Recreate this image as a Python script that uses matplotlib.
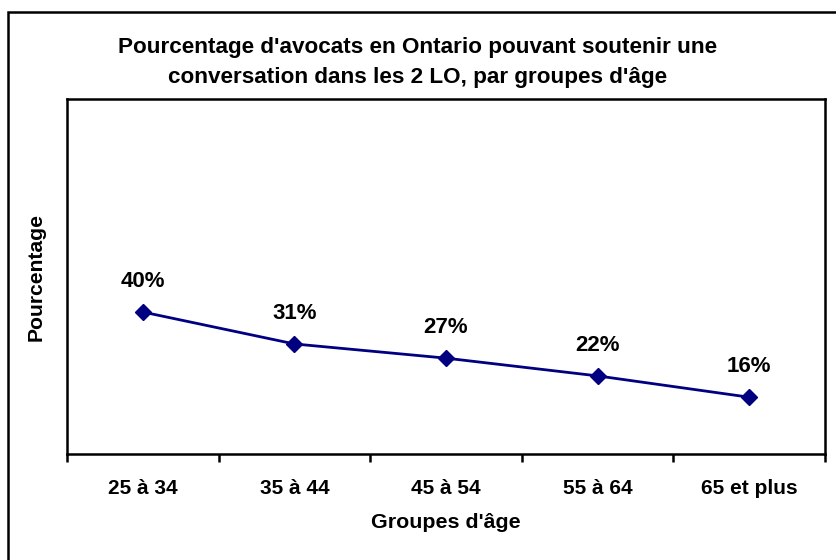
import numpy as np
import matplotlib.pyplot as plt
from matplotlib.patches import Rectangle

plt.rcParams['font.family'] = ['Liberation Sans', 'DejaVu Sans']
plt.rcParams['font.weight'] = 'bold'

groupes = ["25 à 34", "35 à 44", "45 à 54", "55 à 64", "65 et plus"]
pourcentages = [40, 31, 27, 22, 16]

fig = plt.figure(figsize=(8.36, 5.6), dpi=100)
W, H = 836, 560

# outer chart border (only left and top visible in the reference)
fig.patches.append(Rectangle((8 / W, -0.1), 1.2, (560 - 12) / H + 0.1, transform=fig.transFigure,
                             fill=False, edgecolor="black", linewidth=1.8))

ax = fig.add_axes([67 / W, (H - 454) / H, (825 - 67) / W, (454 - 99) / H])
x = np.arange(len(groupes))
ax.plot(x, pourcentages, color="#000080", linewidth=2, marker="D", markersize=8)
for xi, v in zip(x, pourcentages):
    ax.annotate("%d%%" % v, (xi, v), xytext=(0, 22), textcoords="offset points",
                ha="center", va="center", fontsize=16, fontweight="bold")

ax.set_xlim(-0.5, len(groupes) - 0.5)
ax.set_ylim(0, 100)
ax.set_yticks([])
ax.set_xticks(np.arange(len(groupes) + 1) - 0.5)
ax.set_xticklabels([])
ax.set_xticks(x, minor=True)
ax.set_xticklabels(groupes, minor=True, fontsize=15, fontweight="bold")
ax.tick_params(axis="x", which="major", direction="out", length=6, width=1.8)
ax.tick_params(axis="x", which="minor", length=0, pad=18)
for s in ax.spines.values():
    s.set_linewidth(1.8)

fig.text(0.5, (H - 47) / H, "Pourcentage d'avocats en Ontario pouvant soutenir une",
         ha="center", va="center", fontsize=16.2, fontweight="bold")
fig.text(0.5, (H - 77) / H, "conversation dans les 2 LO, par groupes d'âge",
         ha="center", va="center", fontsize=16.2, fontweight="bold")
fig.text(446 / W, (H - 523) / H, "Groupes d'âge", ha="center", va="center",
         fontsize=15.4, fontweight="bold")
fig.text(36 / W, (H - 277) / H, "Pourcentage", ha="center", va="center",
         rotation=90, fontsize=15.2, fontweight="bold")

fig.savefig("out.png", dpi=100)
